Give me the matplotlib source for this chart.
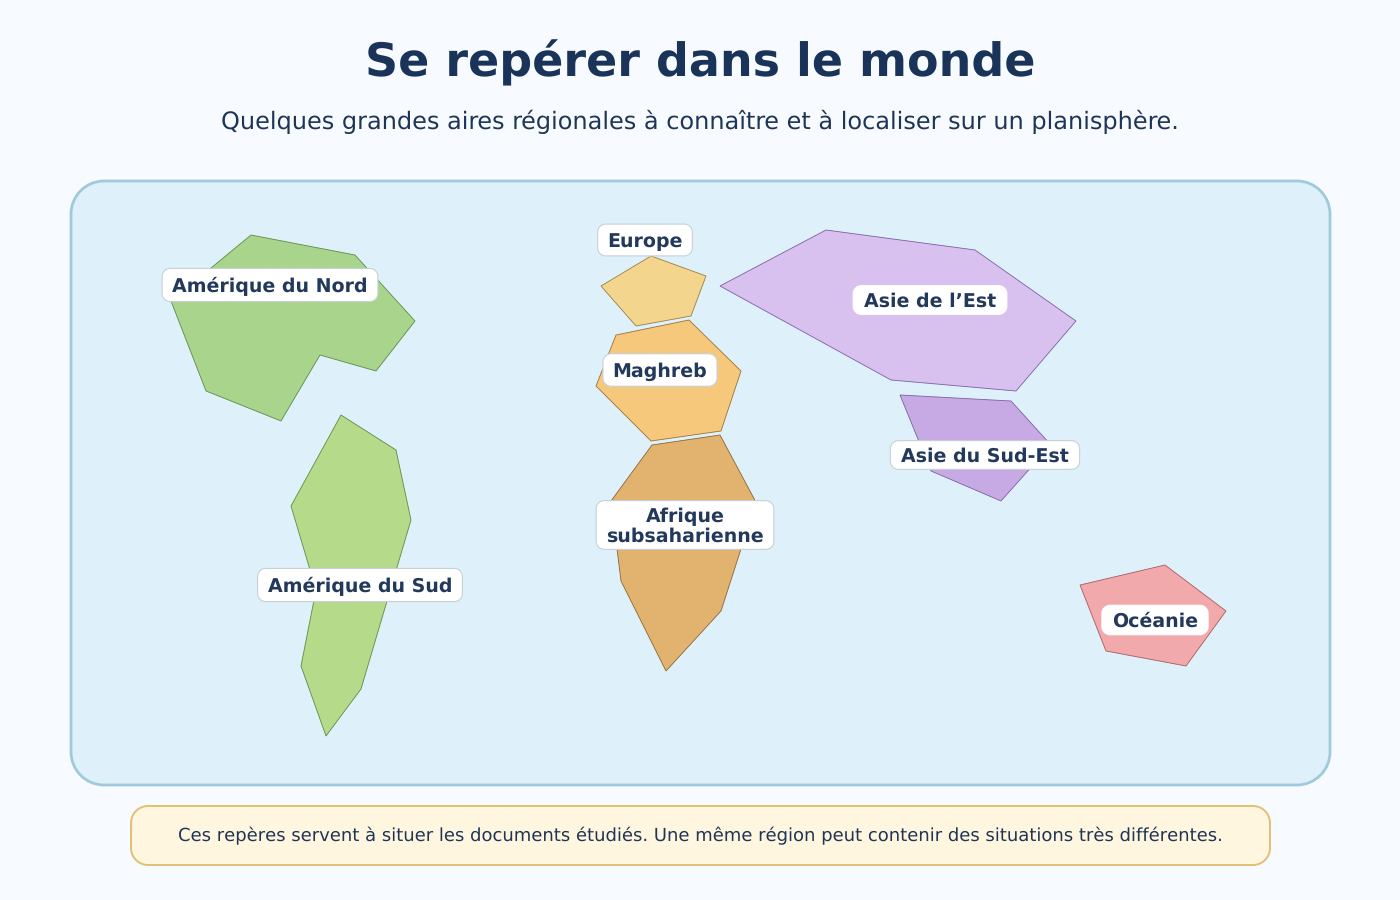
import matplotlib
matplotlib.use('Agg')
import matplotlib.pyplot as plt
from matplotlib.font_manager import FontProperties
from matplotlib.patches import PathPatch, Polygon
from matplotlib.path import Path
from matplotlib.textpath import TextPath

plt.rcParams['text.hinting'] = 'no_hinting'
plt.rcParams['text.hinting_factor'] = 1

# region outlines
amerique_nord = [(251, 235), (355, 255), (415, 321), (376, 371), (320, 355), (281, 421), (206, 391), (171, 301)]
amerique_sud = [(341, 415), (396, 450), (411, 520), (361, 689), (326, 736), (301, 666), (316, 590), (291, 506)]
europe = [(651, 256), (706, 276), (691, 316), (636, 326), (601, 286)]
maghreb = [(616, 335), (689, 320), (741, 371), (721, 431), (651, 441), (596, 386)]
afrique = [(652, 445), (720, 435), (758, 506), (741, 549), (721, 611), (666, 671), (621, 581), (611, 501)]
asie_est = [(826, 230), (975, 250), (1076, 321), (1016, 391), (891, 380), (720, 286)]
asie_se = [(900, 395), (1011, 401), (1051, 445), (1001, 501), (931, 471)]
oceanie = [(1080, 585), (1165, 565), (1226, 611), (1186, 666), (1106, 651)]

regions = [amerique_nord, amerique_sud, europe, maghreb, afrique, asie_est, asie_se, oceanie]
fills = ['#a9d48c', '#b4da8a', '#f3d58e', '#f6c87c', '#e2b26f', '#d8c0ef', '#c7a9e3', '#f1a9ab']
edges = ['#5f8a45', '#5f8a45', '#9a7f3e', '#9a7038', '#8a6530', '#7d5fa3', '#7d5fa3', '#a85a5e']

labels = ['Amérique du Nord', 'Amérique du Sud', 'Europe', 'Maghreb', 'Afrique\nsubsaharienne',
          'Asie de l’Est', 'Asie du Sud-Est', 'Océanie']
label_x = [270, 360, 645, 660, 685, 930, 985, 1155]
label_y = [285, 585, 240, 370, 525, 300, 455, 620]
label_edges = ['#c5d0d8', '#c5d0d8', '#c5d0d8', '#c5d0d8', '#c5d0d8', '#ffffff', '#c5d0d8', '#ffffff']

title = 'Se repérer dans le monde'
subtitle = 'Quelques grandes aires régionales à connaître et à localiser sur un planisphère.'
note = 'Ces repères servent à situer les documents étudiés. Une même région peut contenir des situations très différentes.'

PX = 0.72  # font sizes below are in pixels


def rounded_rect(x0, y0, x1, y1, r):
    k = r * 0.448
    verts = [(x0 + r, y0), (x1 - r, y0),
             (x1 - k, y0), (x1, y0 + k), (x1, y0 + r), (x1, y1 - r),
             (x1, y1 - k), (x1 - k, y1), (x1 - r, y1), (x0 + r, y1),
             (x0 + k, y1), (x0, y1 - k), (x0, y1 - r), (x0, y0 + r),
             (x0, y0 + k), (x0 + k, y0), (x0 + r, y0), (x0 + r, y0)]
    codes = [Path.MOVETO, Path.LINETO,
             Path.CURVE4, Path.CURVE4, Path.CURVE4, Path.LINETO,
             Path.CURVE4, Path.CURVE4, Path.CURVE4, Path.LINETO,
             Path.CURVE4, Path.CURVE4, Path.CURVE4, Path.LINETO,
             Path.CURVE4, Path.CURVE4, Path.CURVE4, Path.CLOSEPOLY]
    return Path(verts, codes)


fig = plt.figure(figsize=(14, 9), dpi=100, facecolor='#f7fbff')
ax = fig.add_axes([0, 0, 1, 1])
ax.set_xlim(0, 1400)
ax.set_ylim(900, 0)
ax.axis('off')

ax.text(700, 76, title, ha='center', va='baseline', fontsize=46 * PX, fontweight='bold', color='#1a3358')
ax.text(700, 129, subtitle, ha='center', va='baseline', fontsize=24 * PX, color='#1f3556')

ax.add_patch(PathPatch(rounded_rect(71, 181, 1330, 785, 33), facecolor='#def1fb',
                       edgecolor='#a0c9dc', linewidth=2))

for pts, fc, ec in zip(regions, fills, edges):
    ax.add_patch(Polygon(pts, closed=True, facecolor=fc, edgecolor=ec, linewidth=0.6))

bold = FontProperties(family='DejaVu Sans', weight='bold')
for name, x, y, box_ec in zip(labels, label_x, label_y, label_edges):
    lines = name.split('\n')
    # each line sits on its own baseline, 20 px apart
    bases = [y + 7 + (i - (len(lines) - 1) / 2) * 20 for i in range(len(lines))]
    left, right, top, bottom = x, x, y, y
    for line, base in zip(lines, bases):
        ext = TextPath((0, 0), line, size=19, prop=bold).get_extents()
        left = min(left, x - ext.width / 2)
        right = max(right, x + ext.width / 2)
        top = min(top, base - ext.y1)
        bottom = max(bottom, base - ext.y0)
    half = (bottom - top + 14) / 2
    ax.add_patch(PathPatch(rounded_rect(left - 11, y - half, right + 11, y + half, 8),
                           facecolor='white', edgecolor=box_ec, linewidth=0.8, zorder=3))
    for line, base in zip(lines, bases):
        ax.text(x, base, line, ha='center', va='baseline', fontsize=19 * PX, fontweight='bold',
                color='#23395b', zorder=4)

ax.add_patch(PathPatch(rounded_rect(131, 806, 1270, 865, 17), facecolor='#fff6df',
                       edgecolor='#e0c074', linewidth=1.4))
ax.text(700, 841, note, ha='center', va='baseline', fontsize=18 * PX, color='#1f3556')

fig.savefig('out.png', dpi=100, facecolor=fig.get_facecolor())
